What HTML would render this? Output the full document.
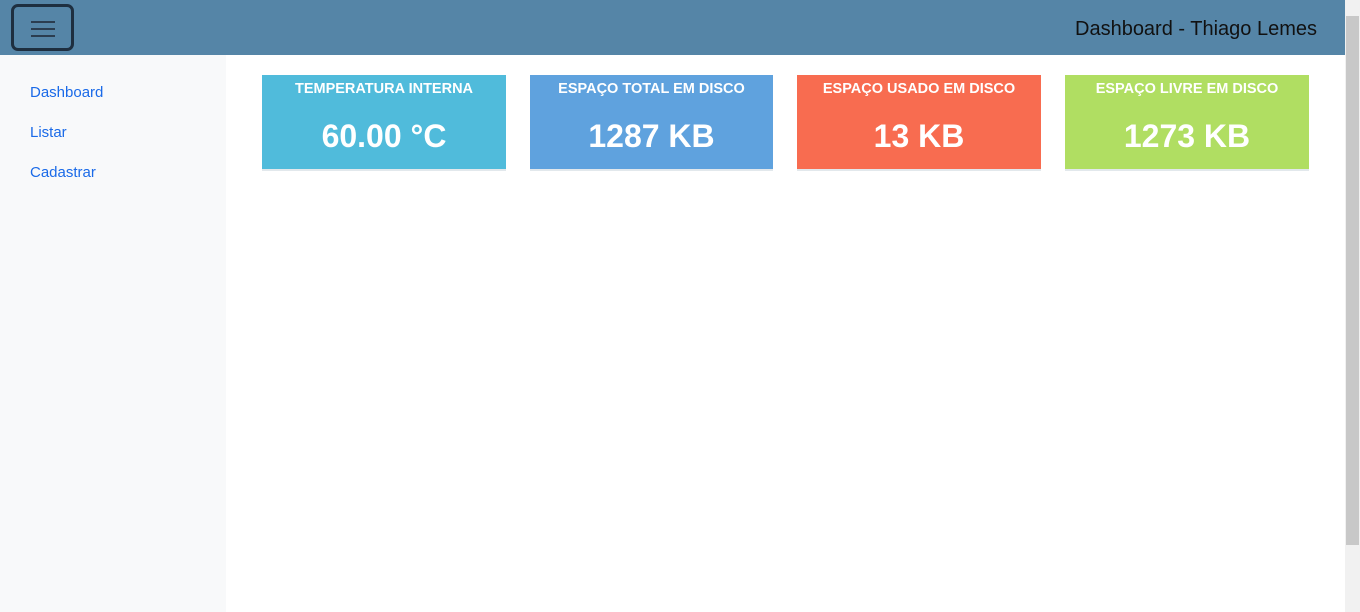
<!DOCTYPE html>
<html><head><meta charset="utf-8"><style>
body{margin:0;width:1360px;height:612px;overflow:hidden;font-family:"Liberation Sans",sans-serif;background:#fff;position:relative}
.hdr{position:absolute;left:0;top:0;width:1345px;height:55px;background:#5585a7}
.menu{position:absolute;left:11px;top:4px;width:57px;height:41px;border:3px solid #1e2f40;border-radius:7px;box-sizing:content-box}
.menu i{position:absolute;left:17px;width:24px;height:2px;background:#2b3d50}
.title{position:absolute;right:28px;top:18px;font-size:20px;color:#111}
.side{position:absolute;left:0;top:55px;width:226px;height:557px;background:#f8f9fa}
.side a{position:absolute;left:30px;font-size:15px;color:#1a6ae8;text-decoration:none}
.card{position:absolute;top:75px;width:244px;height:94px;color:#fff;text-align:center;box-shadow:0 2px 0 #e2e8ec}
.card .t{position:absolute;top:6px;left:0;right:0;font-size:14.5px;font-weight:bold}
.card .v{position:absolute;top:43px;left:0;right:0;font-size:32px;font-weight:bold}
.sb{position:absolute;left:1345px;top:0;width:15px;height:612px;background:#f1f1f1}
.thumb{position:absolute;left:1346px;top:16px;width:13px;height:529px;background:#c8c8c8}
</style></head><body>
<div class="hdr">
<div class="menu"><i style="top:14px"></i><i style="top:21px"></i><i style="top:28px"></i></div>
<div class="title">Dashboard - Thiago Lemes</div>
</div>
<div class="side">
<a href="#" style="top:29px">Dashboard</a>
<a href="#" style="top:69px">Listar</a>
<a href="#" style="top:109px">Cadastrar</a>
</div>
<div class="card" style="left:262px;background:#50bbdb"><div class="t">TEMPERATURA INTERNA</div><div class="v">60.00 °C</div></div>
<div class="card" style="left:530px;width:243px;background:#5fa2de"><div class="t">ESPAÇO TOTAL EM DISCO</div><div class="v">1287 KB</div></div>
<div class="card" style="left:797px;background:#f86c50"><div class="t">ESPAÇO USADO EM DISCO</div><div class="v">13 KB</div></div>
<div class="card" style="left:1065px;background:#b0de62"><div class="t">ESPAÇO LIVRE EM DISCO</div><div class="v">1273 KB</div></div>
<div class="sb"></div>
<div class="thumb"></div>
</body></html>
